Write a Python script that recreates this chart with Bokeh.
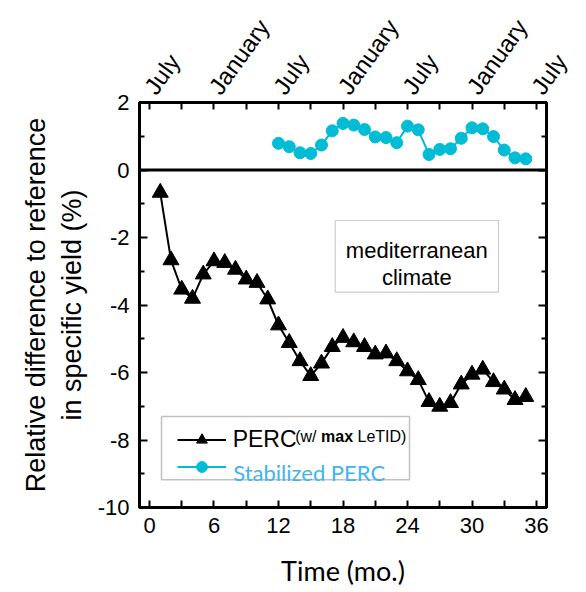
import math
from bokeh.plotting import figure
from bokeh.models import (LinearAxis, FixedTicker, Span, Label, BoxAnnotation,
                          Legend, LegendItem, Range1d)
from bokeh.embed import file_html
from bokeh.resources import INLINE

# ---- data ----
perc_months = list(range(1, 36))
perc_values = [-0.67, -2.67, -3.54, -3.81, -3.09, -2.70, -2.75, -2.95, -3.24, -3.34,
               -3.83, -4.60, -5.12, -5.66, -6.10, -5.73, -5.24, -4.97, -5.10, -5.24,
               -5.46, -5.43, -5.66, -5.96, -6.22, -6.87, -7.01, -6.90, -6.35, -6.06,
               -5.91, -6.28, -6.50, -6.81, -6.72]

stab_months = list(range(12, 36))
stab_values = [0.79, 0.69, 0.51, 0.49, 0.74, 1.16, 1.38, 1.33, 1.20, 0.98,
               0.96, 0.81, 1.30, 1.19, 0.46, 0.61, 0.63, 0.94, 1.25, 1.22,
               0.99, 0.59, 0.36, 0.33]

x_ticks = [0, 6, 12, 18, 24, 30, 36]
x_minor = [3, 9, 15, 21, 27, 33]
top_labels = ["July", "January", "July", "January", "July", "January", "July"]
y_ticks = [-10, -8, -6, -4, -2, 0, 2]
y_tick_labels = ["-10", "-8", "-6", "-4", "-2", "0", "2"]
y_minor = [-9, -7, -5, -3, -1, 1]

FONT = "Liberation Sans"
CYAN = "#00bcd4"
LIGHTBLUE = "#42b3f5"

p = figure(frame_width=407, frame_height=405,
           x_range=Range1d(-0.93, 36.93), y_range=Range1d(-10, 2),
           output_backend="svg", toolbar_location=None,
           min_border_left=139, min_border_top=102, min_border_right=39,
           min_border_bottom=85)
p.xgrid.visible = False
p.ygrid.visible = False
p.outline_line_color = "black"
p.outline_line_width = 3
p.background_fill_color = "white"
p.border_fill_color = "white"


def style(ax, tick_in, minor_in):
    ax.axis_line_width = 3
    ax.axis_line_color = "black"
    ax.major_tick_line_width = 2
    ax.minor_tick_line_width = 2
    ax.major_tick_in = tick_in
    ax.major_tick_out = 0
    ax.minor_tick_in = minor_in
    ax.minor_tick_out = 0
    ax.major_label_text_font = FONT
    ax.major_label_text_font_size = "22px"
    ax.major_label_text_color = "black"


xb = p.xaxis[0]
xb.ticker = FixedTicker(ticks=x_ticks, minor_ticks=x_minor)
style(xb, 7, 7)
xb.major_label_standoff = 10
xb.axis_label = "Time (mo.)"
xb.axis_label_text_font = "Lato"
xb.axis_label_text_font_style = "normal"
xb.axis_label_text_font_size = "27px"
xb.axis_label_text_color = "black"
xb.axis_label_standoff = 18

yl = p.yaxis[0]
yl.ticker = FixedTicker(ticks=y_ticks, minor_ticks=y_minor)
yl.major_label_overrides = {t: s for t, s in zip(y_ticks, y_tick_labels)}
style(yl, 8, 5)
yl.major_label_standoff = 10
yl.axis_label = "Relative difference to reference\nin specific yield (%)"
yl.axis_label_text_font = FONT
yl.axis_label_text_font_style = "normal"
yl.axis_label_text_font_size = "27px"
yl.axis_label_text_color = "black"
yl.axis_label_text_align = "center"
yl.axis_label_standoff = 8

yr = LinearAxis(ticker=FixedTicker(ticks=y_ticks, minor_ticks=y_minor))
style(yr, 8, 5)
yr.major_label_text_color = None
p.add_layout(yr, "right")

xt = LinearAxis(ticker=FixedTicker(ticks=x_ticks, minor_ticks=x_minor),
                major_label_overrides={t: s for t, s in zip(x_ticks, top_labels)},
                major_label_orientation=0.95)
style(xt, 7, 7)
xt.major_label_text_font_size = "24px"
xt.major_label_standoff = 11
p.add_layout(xt, "above")

# zero line
p.add_layout(Span(location=0, dimension="width", line_color="black", line_width=3))

# annotation boxes (drawn before the legend)
p.add_layout(BoxAnnotation(left=22, right=270, bottom=27.7, top=91,
                           left_units="screen", right_units="screen",
                           bottom_units="screen", top_units="screen",
                           fill_color="white", fill_alpha=1.0,
                           line_color="#333333", line_width=1.5))
p.add_layout(BoxAnnotation(left=195.7, right=359, bottom=215.3, top=287,
                           left_units="screen", right_units="screen",
                           bottom_units="screen", top_units="screen",
                           fill_color="white", fill_alpha=1.0,
                           line_color="#555555", line_width=1.2))
for txt, yy in (("mediterranean", 257), ("climate", 230.3)):
    p.add_layout(Label(x=277.3, y=yy, x_units="screen", y_units="screen", text=txt,
                       text_align="center", text_baseline="alphabetic",
                       text_font=FONT, text_font_size="22px", text_color="black"))

# data
l1 = p.line(perc_months, perc_values, line_color="black", line_width=2)
s1 = p.scatter(perc_months, perc_values, marker="triangle", size=16,
               fill_color="black", line_color="black")
l2 = p.line(stab_months, stab_values, line_color=CYAN, line_width=2)
s2 = p.scatter(stab_months, stab_values, marker="circle", size=12,
               fill_color=CYAN, line_color=CYAN)

legend = Legend(items=[LegendItem(label="PERC", renderers=[l1, s1]),
                       LegendItem(label=" ", renderers=[l2, s2])],
                location=(37.7, 26.8), padding=0, spacing=0, margin=0,
                label_height=27, glyph_height=27, glyph_width=49,
                label_standoff=7, label_text_font=FONT,
                label_text_font_size="23px", label_text_color="black",
                border_line_color=None, background_fill_alpha=0)
p.add_layout(legend)

# superscript of the first legend entry
for txt, xx, style_ in (("(w/", 155.7, "normal"), ("max", 181.5, "bold"),
                        ("LeTID)", 218.0, "normal")):
    p.add_layout(Label(x=xx, y=71, x_units="screen", y_units="screen", text=txt,
                       text_align="left", text_baseline="alphabetic",
                       text_font=FONT, text_font_size="16px",
                       text_font_style=style_, text_color="black"))

p.add_layout(Label(x=93.7, y=35.3, x_units="screen", y_units="screen",
                   text="Stabilized PERC", text_align="left",
                   text_baseline="alphabetic", text_font="Lato",
                   text_font_size="22px", text_color=LIGHTBLUE))

open("out.html", "w").write(file_html(p, INLINE))
